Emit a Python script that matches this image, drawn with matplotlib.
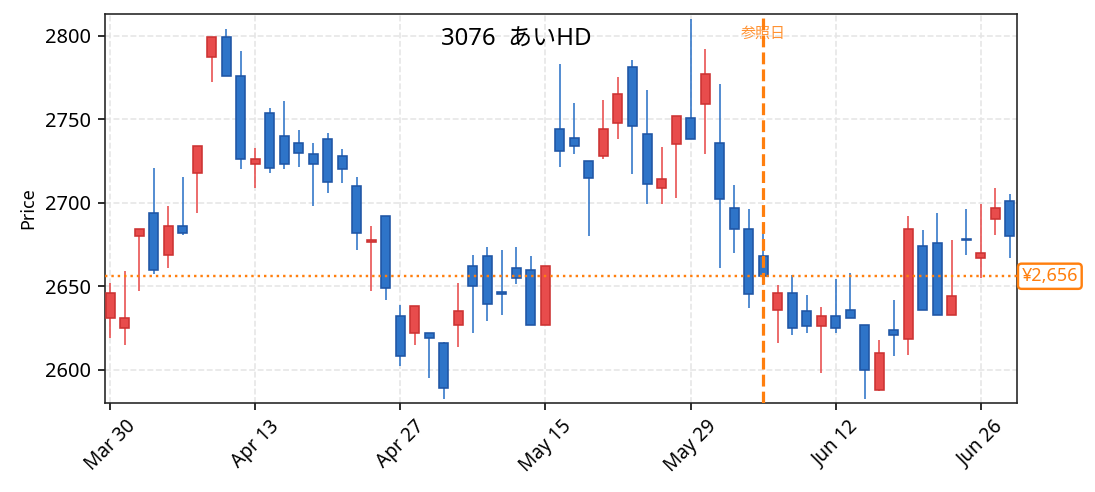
import numpy as np
import matplotlib
matplotlib.use("Agg")
import matplotlib.pyplot as plt
from matplotlib.patches import Rectangle
import matplotlib.transforms as mtrans
import pandas as pd

plt.rcParams['font.family'] = ['Noto Sans', 'Noto Sans CJK JP', 'DejaVu Sans']

# Données (jours de bourse, 2020)
dates = pd.to_datetime([
    "2020-03-30", "2020-03-31", "2020-04-01", "2020-04-02", "2020-04-03",
    "2020-04-06", "2020-04-07", "2020-04-08", "2020-04-09", "2020-04-10",
    "2020-04-13", "2020-04-14", "2020-04-15", "2020-04-16", "2020-04-17",
    "2020-04-20", "2020-04-21", "2020-04-22", "2020-04-23", "2020-04-24",
    "2020-04-27", "2020-04-28", "2020-04-30", "2020-05-01", "2020-05-07",
    "2020-05-08", "2020-05-11", "2020-05-12", "2020-05-13", "2020-05-14",
    "2020-05-15", "2020-05-18", "2020-05-19", "2020-05-20", "2020-05-21",
    "2020-05-22", "2020-05-25", "2020-05-26", "2020-05-27", "2020-05-28",
    "2020-05-29", "2020-06-01", "2020-06-02", "2020-06-03", "2020-06-04",
    "2020-06-05", "2020-06-08", "2020-06-09", "2020-06-10", "2020-06-11",
    "2020-06-12", "2020-06-15", "2020-06-16", "2020-06-17", "2020-06-18",
    "2020-06-19", "2020-06-22", "2020-06-23", "2020-06-24", "2020-06-25",
    "2020-06-26", "2020-06-29", "2020-06-30",
])

opens = [2631, 2625, 2680, 2694, 2669, 2686, 2718, 2787, 2799, 2776,
         2723, 2754, 2740, 2736, 2729, 2738, 2728, 2710, 2676.5, 2692,
         2632, 2622, 2622, 2616, 2627, 2662, 2668, 2646.7, 2661, 2660,
         2627, 2744, 2739, 2725, 2728, 2748, 2781, 2741, 2709, 2735,
         2751, 2759, 2736, 2697, 2684.5, 2668, 2636, 2646, 2635, 2626.5,
         2632, 2636, 2627, 2588, 2624, 2618.5, 2674, 2676, 2633, 2678.4,
         2667, 2690, 2701]
closes = [2646, 2631, 2684, 2660, 2686, 2682, 2734, 2799, 2776, 2726,
          2726, 2721, 2723, 2730, 2723, 2712.5, 2720, 2682, 2677.5, 2649,
          2608, 2638, 2619, 2589, 2635, 2650, 2639.5, 2645.5, 2655, 2627,
          2662, 2731, 2734, 2715, 2744, 2765, 2746, 2711, 2714, 2752,
          2738, 2777, 2702, 2684, 2645.5, 2656, 2646, 2625, 2626.5, 2632,
          2625, 2631, 2600, 2610, 2621, 2684, 2636, 2633, 2644, 2677.8,
          2670, 2697, 2680]
highs = [2652, 2659, 2684.5, 2721, 2698, 2715.5, 2734, 2799, 2804, 2791,
         2733, 2756.5, 2761, 2743.5, 2735.5, 2741.5, 2732, 2715.5, 2686, 2692,
         2639, 2638, 2622.3, 2616.4, 2652, 2669, 2673.6, 2672, 2673.6, 2668,
         2662.4, 2783, 2760, 2724.6, 2761.5, 2775, 2785.4, 2767.5, 2733.4, 2751.7,
         2810, 2792, 2771, 2710.7, 2696, 2682, 2651, 2657, 2645, 2637.7,
         2654.6, 2658, 2627.1, 2618, 2642, 2692, 2683.7, 2694, 2678, 2696,
         2699, 2709, 2705]
lows = [2619, 2615, 2647, 2657.6, 2661, 2681, 2694, 2772.5, 2776, 2720,
        2709, 2718, 2720, 2721.6, 2698, 2706, 2712, 2672, 2647, 2642,
        2602, 2615, 2595, 2582.5, 2613.4, 2622.3, 2629, 2633, 2651.6, 2627,
        2627, 2721.6, 2729.4, 2680, 2726.4, 2738.4, 2717, 2699.5, 2699.5, 2703,
        2738, 2729.4, 2661, 2670, 2637, 2651, 2616, 2621, 2622.3, 2598,
        2622.3, 2631, 2582.5, 2587.4, 2608, 2608.8, 2636, 2632.9, 2632.9, 2669,
        2655, 2681, 2667]

ref_idx = 45
ref_price = 2656
title = "3076  あいHD"

# Couleurs
up_face, up_edge = '#e84c4c', '#cc3333'
dn_face, dn_edge = '#2e74c8', '#1f55a5'
orange = '#ff7f0e'

fig, ax = plt.subplots(figsize=(1095/144, 492/144), dpi=144)
fig.subplots_adjust(left=0.0959, right=0.9288, top=0.9715, bottom=0.1815)

w = 0.62
x = np.arange(len(dates))
for i in x:
    o, c, h, l = opens[i], closes[i], highs[i], lows[i]
    if c >= o:
        fc, ec = up_face, up_edge
    else:
        fc, ec = dn_face, dn_edge
    ax.vlines(i, l, h, color=fc, linewidth=0.8, zorder=2)
    bottom = min(o, c)
    height = max(abs(c - o), 0.8)
    ax.add_patch(Rectangle((i - w/2, bottom), w, height, facecolor=fc,
                           edgecolor=ec, linewidth=0.8, zorder=3))

# Lignes de référence
ax.axvline(ref_idx, color=orange, linestyle='--', linewidth=1.6, zorder=4)
ax.text(ref_idx, 2801, "参照日", color=orange, fontsize=7.5, ha='center',
        va='center', alpha=0.85, zorder=5)
ax.axhline(ref_price, color=orange, linestyle=':', linewidth=1.2, zorder=4)
trans = mtrans.blended_transform_factory(ax.transAxes, ax.transData)
ax.text(1.005, ref_price, f"¥{ref_price:,}", transform=trans, color=orange,
        fontsize=9, ha='left', va='center', clip_on=False,
        bbox=dict(boxstyle='round,pad=0.2', facecolor='white', edgecolor=orange, linewidth=1.2))

ax.text(0.451, 0.933, title, transform=ax.transAxes, ha='center', va='center', fontsize=12)

ax.set_xlim(-0.35, 62.5)
ax.set_ylim(2580.3, 2813)
ticks = x[::10]
ax.set_xticks(ticks)
ax.set_xticklabels([dates[i].strftime('%b %d') for i in ticks], rotation=45, fontsize=9.5)
ax.set_yticks([2600, 2650, 2700, 2750, 2800])
ax.tick_params(axis='y', labelsize=10)
ax.set_ylabel("Price", fontsize=9)
ax.grid(True, color='#e6e6e6', linestyle='--', linewidth=0.8, zorder=0)
ax.set_axisbelow(True)
for s in ax.spines.values():
    s.set_color('#222222')

plt.savefig("out.png", dpi=144)
